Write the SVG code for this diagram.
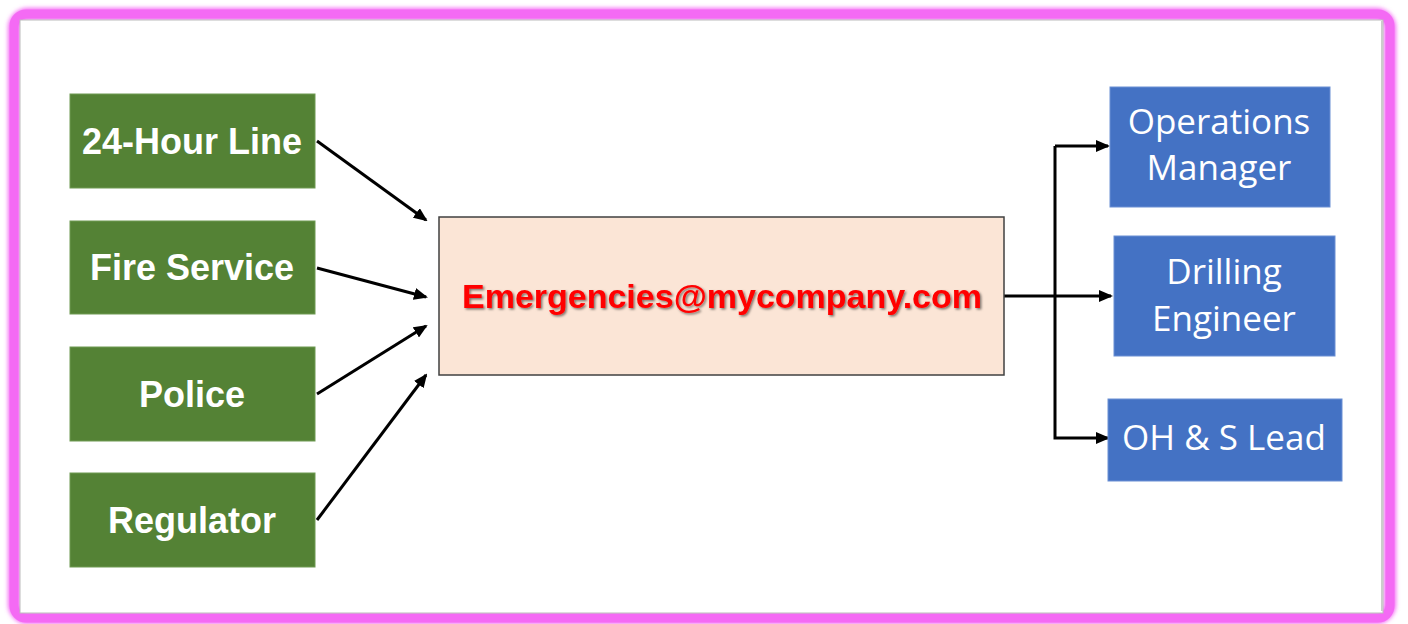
<svg xmlns="http://www.w3.org/2000/svg" width="1408" height="624" viewBox="0 0 1408 624">
<defs>
<marker id="ah" markerWidth="14" markerHeight="12" refX="12" refY="6" orient="auto" markerUnits="userSpaceOnUse" viewBox="0 0 14 12">
<path d="M0,0 L14,6 L0,12 z" fill="#000"/>
</marker>
<filter id="blur" x="-5%" y="-5%" width="110%" height="110%"><feGaussianBlur stdDeviation="2"/></filter>
<filter id="tsh" x="-5%" y="-20%" width="110%" height="140%"><feDropShadow dx="1.5" dy="1.5" stdDeviation="1.2" flood-color="#000" flood-opacity="0.5"/></filter>
</defs>
<style>
.g{fill:#548235;stroke:#6e9a52;stroke-width:1}
.b{fill:#4472c4;stroke:#6a8fd4;stroke-width:1}
.gt{font-family:"Liberation Sans",Arial,sans-serif;font-weight:bold;font-size:36px;fill:#fff;text-anchor:middle}
.bt{font-family:"Open Sans","Liberation Sans",sans-serif;font-size:35px;fill:#fff;text-anchor:middle}
.c{stroke:#000;stroke-width:3;fill:none}
</style>
<rect width="1408" height="624" fill="#fff"/>
<rect x="14" y="14" width="1376" height="604" rx="14" fill="none" stroke="#f46af4" stroke-width="12" filter="url(#blur)"/>
<rect x="14" y="14" width="1376" height="604" rx="12" fill="none" stroke="#f46af4" stroke-width="9"/>
<rect x="20" y="20" width="1363" height="593" fill="#fff" stroke="#bbb" stroke-width="1"/>
<line x1="21" y1="611" x2="1382" y2="611" stroke="#aaa" stroke-width="3" filter="url(#blur)"/>
<line x1="1382" y1="21" x2="1382" y2="611" stroke="#ccc" stroke-width="2"/>
<g id="connectors">
<line class="c" x1="317" y1="141" x2="426" y2="220" marker-end="url(#ah)"/>
<line class="c" x1="317" y1="268" x2="426" y2="297" marker-end="url(#ah)"/>
<line class="c" x1="317" y1="394" x2="426" y2="326" marker-end="url(#ah)"/>
<line class="c" x1="317" y1="520" x2="426" y2="375" marker-end="url(#ah)"/>
<line class="c" x1="1004" y1="296" x2="1111" y2="296" marker-end="url(#ah)"/>
<polyline class="c" points="1055,146 1055,438 1108,438" marker-end="url(#ah)"/>
<line class="c" x1="1055" y1="146" x2="1108" y2="146" marker-end="url(#ah)"/>
</g>
<g id="n-24hour"><rect class="g" x="70" y="94" width="245" height="94"/><text class="gt" x="192" y="154">24-Hour Line</text></g>
<g id="n-fire"><rect class="g" x="70" y="221" width="245" height="93"/><text class="gt" x="192" y="280">Fire Service</text></g>
<g id="n-police"><rect class="g" x="70" y="347" width="245" height="94"/><text class="gt" x="192" y="407">Police</text></g>
<g id="n-regulator"><rect class="g" x="70" y="473" width="245" height="94"/><text class="gt" x="192" y="533">Regulator</text></g>
<g id="n-email"><rect x="439" y="217" width="565" height="158" fill="#fbe5d6" stroke="#404040" stroke-width="1.5"/><text x="722" y="308" font-family="Liberation Sans,Arial,sans-serif" font-weight="bold" font-size="34" fill="#ff0000" text-anchor="middle" filter="url(#tsh)">Emergencies@mycompany.com</text></g>
<g id="n-ops"><rect class="b" x="1110" y="87" width="220" height="120"/><text class="bt" x="1219" y="134">Operations</text><text class="bt" x="1219" y="180">Manager</text></g>
<g id="n-drill"><rect class="b" x="1114" y="236" width="221" height="120"/><text class="bt" x="1224" y="284">Drilling</text><text class="bt" x="1224" y="331">Engineer</text></g>
<g id="n-ohs"><rect class="b" x="1108" y="399" width="234" height="82"/><text class="bt" x="1224" y="450">OH &amp; S Lead</text></g>
</svg>
